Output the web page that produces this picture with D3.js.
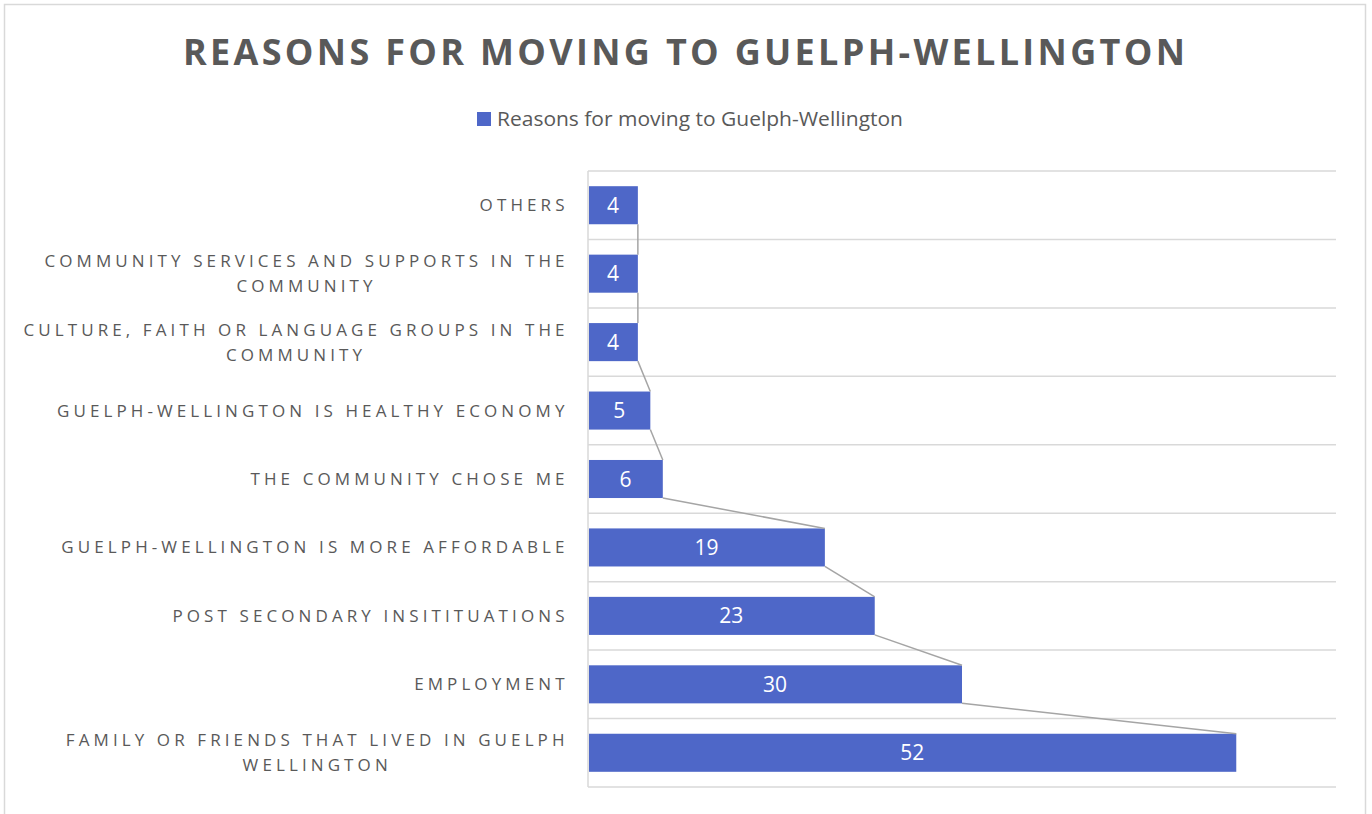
<!DOCTYPE html>
<html>
<head>
<meta charset="utf-8">
<script src="https://cdn.jsdelivr.net/npm/d3@7"></script>
<style>
  html, body { margin: 0; padding: 0; background: #ffffff; }
  svg { display: block; }
  text { font-family: "Open Sans", "Noto Sans", sans-serif; }
</style>
</head>
<body>
<svg id="chart" width="1372" height="814"></svg>
<script>
// Categories listed bottom-to-top as they appear on the axis
const categories = [
  "FAMILY OR FRIENDS THAT LIVED IN GUELPH WELLINGTON",
  "EMPLOYMENT",
  "POST SECONDARY INSITITUATIONS",
  "GUELPH-WELLINGTON IS MORE AFFORDABLE",
  "THE COMMUNITY CHOSE ME",
  "GUELPH-WELLINGTON IS HEALTHY ECONOMY",
  "CULTURE, FAITH OR LANGUAGE GROUPS IN THE COMMUNITY",
  "COMMUNITY SERVICES AND SUPPORTS IN THE COMMUNITY",
  "OTHERS"
];
const values = [52, 30, 23, 19, 6, 5, 4, 4, 4];
// Wrapped lines for the axis labels
const labelLines = [
  ["FAMILY OR FRIENDS THAT LIVED IN GUELPH", "WELLINGTON"],
  ["EMPLOYMENT"],
  ["POST SECONDARY INSITITUATIONS"],
  ["GUELPH-WELLINGTON IS MORE AFFORDABLE"],
  ["THE COMMUNITY CHOSE ME"],
  ["GUELPH-WELLINGTON IS HEALTHY ECONOMY"],
  ["CULTURE, FAITH OR LANGUAGE GROUPS IN THE", "COMMUNITY"],
  ["COMMUNITY SERVICES AND SUPPORTS IN THE", "COMMUNITY"],
  ["OTHERS"]
];
const seriesName = "Reasons for moving to Guelph-Wellington";
const chartTitle = "REASONS FOR MOVING TO GUELPH-WELLINGTON";
const xDomain = [0, 60];

const svg = d3.select("#chart");
const plot = { left: 588, right: 1336, top: 171, bottom: 787 };
const barColor = "#4e67c8";
const textColor = "#595959";
const gridColor = "#d9d9d9";

// Chart area border
svg.append("rect")
  .attr("x", 4.5).attr("y", 4.5)
  .attr("width", 1361).attr("height", 820)
  .attr("fill", "#fff").attr("stroke", gridColor).attr("stroke-width", 1.5);

// Title
svg.append("text")
  .attr("x", 684).attr("y", 65)
  .attr("text-anchor", "middle")
  .attr("font-size", 36).attr("font-weight", 700)
  .attr("fill", textColor)
  .attr("textLength", 1002).attr("lengthAdjust", "spacing")
  .text(chartTitle);

// Legend
const legend = svg.append("g");
legend.append("rect")
  .attr("x", 477).attr("y", 112).attr("width", 14).attr("height", 14)
  .attr("fill", barColor);
legend.append("text")
  .attr("x", 497).attr("y", 126)
  .attr("font-size", 20).attr("fill", textColor)
  .attr("textLength", 406).attr("lengthAdjust", "spacingAndGlyphs")
  .text(seriesName);

// Scales
const x = d3.scaleLinear().domain(xDomain).range([plot.left, plot.right]);
const y = d3.scaleBand()
  .domain(categories.slice().reverse())
  .range([plot.top, plot.bottom])
  .paddingInner(0.444).paddingOuter(0.222);
const step = y.step();

// Horizontal gridlines at category boundaries
const g = svg.append("g");
g.selectAll("line.grid")
  .data(d3.range(categories.length + 1))
  .join("line")
  .attr("class", "grid")
  .attr("x1", plot.left).attr("x2", plot.right)
  .attr("y1", i => plot.top + i * step)
  .attr("y2", i => plot.top + i * step)
  .attr("stroke", gridColor).attr("stroke-width", 1.5);

// Vertical category axis line
g.append("line")
  .attr("x1", plot.left).attr("x2", plot.left)
  .attr("y1", plot.top).attr("y2", plot.bottom)
  .attr("stroke", gridColor).attr("stroke-width", 1.5);

const data = categories.map((c, i) => ({ c, v: values[i], lines: labelLines[i] }));

// Bars
g.selectAll("rect.bar")
  .data(data)
  .join("rect")
  .attr("class", "bar")
  .attr("x", x(0) + 1)
  .attr("y", d => y(d.c))
  .attr("width", d => x(d.v) - x(0) - 1)
  .attr("height", y.bandwidth())
  .attr("fill", barColor);

// Series lines joining the ends of neighbouring bars
const seriesPairs = d3.pairs(data.slice().reverse());
g.selectAll("line.series")
  .data(seriesPairs)
  .join("line")
  .attr("class", "series")
  .attr("x1", ([a]) => x(a.v))
  .attr("y1", ([a]) => y(a.c) + y.bandwidth())
  .attr("x2", ([, b]) => x(b.v))
  .attr("y2", ([, b]) => y(b.c))
  .attr("stroke", "#a5a5a5").attr("stroke-width", 1.5);

// Value labels
g.selectAll("text.value")
  .data(data)
  .join("text")
  .attr("class", "value")
  .attr("x", d => (x(0) + x(d.v)) / 2)
  .attr("y", d => y(d.c) + y.bandwidth() / 2 + 7.5)
  .attr("text-anchor", "middle")
  .attr("font-size", 21)
  .attr("fill", "#ffffff")
  .text(d => d.v);

// Category labels: letter-spaced, block right-aligned, lines centred
const labelSize = 17;
const labelRight = 564.5;
const refLine = "CULTURE, FAITH OR LANGUAGE GROUPS IN THE";
const probe = svg.append("text").attr("font-size", labelSize).text(refLine);
const natural = probe.node().getComputedTextLength();
probe.remove();
const ls = (541 - natural) / (refLine.length - 1);

const labels = g.selectAll("g.cat")
  .data(data)
  .join("g")
  .attr("class", "cat");

labels.each(function(d) {
  const grp = d3.select(this);
  const texts = d.lines.map(line => grp.append("text")
    .attr("font-size", labelSize)
    .attr("fill", textColor)
    .attr("letter-spacing", ls)
    .attr("text-anchor", "middle")
    .text(line));
  const widths = texts.map(t => t.node().getComputedTextLength() - ls);
  const maxW = d3.max(widths);
  const cx = labelRight - maxW / 2;
  const lineH = 25;
  const cy = y(d.c) + y.bandwidth() / 2;
  const firstBase = cy - (d.lines.length - 1) * lineH / 2 + 6;
  texts.forEach((t, i) => {
    t.attr("x", cx + ls / 2).attr("y", firstBase + i * lineH);
  });
});
</script>
</body>
</html>
